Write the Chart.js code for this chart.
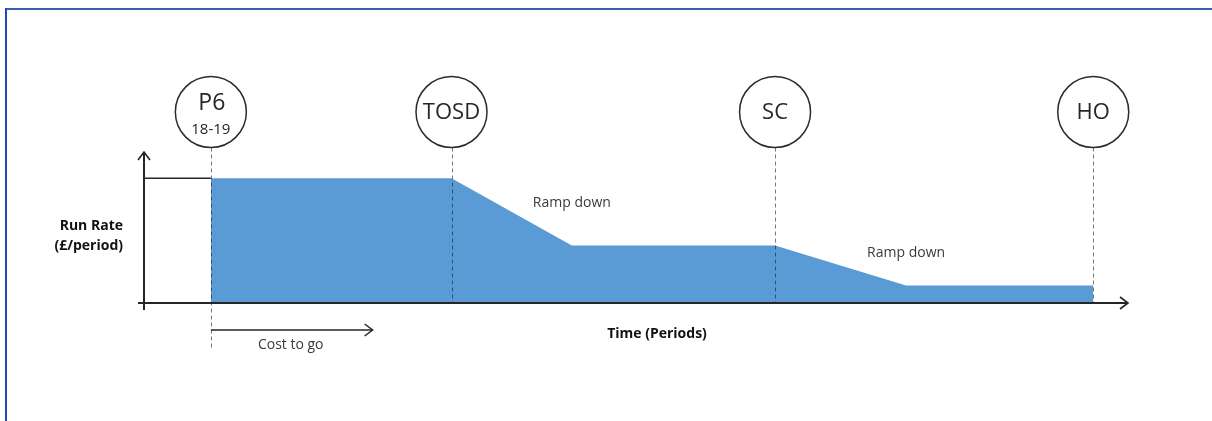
<!DOCTYPE html>
<html>
<head>
<meta charset="utf-8">
<script src="https://cdn.jsdelivr.net/npm/chart.js@4"></script>
<style>
html,body{margin:0;padding:0;background:#fff;}
#wrap{position:relative;width:1212px;height:421px;}
</style>
</head>
<body>
<div id="wrap"><canvas id="c"></canvas></div>
<script>
// ---- data ----
const milestoneLabels = ['P6', 'TOSD', 'SC', 'HO'];
const milestoneSubLabels = ['18-19', '', '', ''];
const milestoneX = [5, 23, 47.2, 71];

const profileX = [5, 23, 32, 47.2, 57, 71];
const profileY = [10, 10, 4.6, 4.6, 1.4, 1.4];

const priorX = [0, 5];
const priorY = [10, 10];

const rampLabels = ['Ramp down', 'Ramp down'];
const rampLabelX = [32, 57];
const rampLabelY = [8, 4.0];

const xAxisTitle = 'Time (Periods)';
const yAxisTitle = ['Run Rate', '(£/period)'];
const costToGoLabel = 'Cost to go';
const costToGoFrom = 5;
const costToGoTo = 17.1;

const xMax = 73.6;
const yMax = 12.1;

const FONT = "'Open Sans', sans-serif";

function arrowHead(ctx, x, y, dir) {
  ctx.beginPath();
  if (dir === 'right') {
    ctx.moveTo(x - 8, y - 6); ctx.lineTo(x, y); ctx.lineTo(x - 8, y + 6);
  } else {
    ctx.moveTo(x - 6, y + 8); ctx.lineTo(x, y); ctx.lineTo(x + 6, y + 8);
  }
  ctx.stroke();
}

const diagramPlugin = {
  id: 'diagram',
  beforeDraw(chart) {
    const ctx = chart.ctx;
    ctx.save();
    ctx.fillStyle = '#fff';
    ctx.fillRect(0, 0, chart.width, chart.height);
    // frame
    ctx.lineWidth = 2;
    ctx.strokeStyle = '#3b5fb0';
    ctx.beginPath(); ctx.moveTo(5, 9); ctx.lineTo(chart.width, 9); ctx.stroke();
    ctx.strokeStyle = '#2247b6';
    ctx.beginPath(); ctx.moveTo(6, 8); ctx.lineTo(6, chart.height); ctx.stroke();
    ctx.restore();
  },
  afterDatasetsDraw(chart) {
    const ctx = chart.ctx;
    const xs = chart.scales.x, ys = chart.scales.y;
    const area = chart.chartArea;
    const y0 = ys.getPixelForValue(0);
    const x0 = xs.getPixelForValue(0);
    ctx.save();

    // dashed milestone lines
    const circleR = 35.5;
    const circleCY = area.top - 40;
    ctx.setLineDash([4, 3]);
    ctx.lineWidth = 1;
    ctx.strokeStyle = 'rgba(30,30,30,0.6)';
    milestoneX.forEach((mx, i) => {
      const px = Math.round(xs.getPixelForValue(mx)) + 0.5;
      const bottom = i === 0 ? y0 + 47 : y0;
      ctx.beginPath();
      ctx.moveTo(px, circleCY + circleR);
      ctx.lineTo(px, bottom);
      ctx.stroke();
    });
    ctx.setLineDash([]);

    // axes
    ctx.strokeStyle = '#262626';
    ctx.lineWidth = 2;
    ctx.beginPath();
    ctx.moveTo(x0 - 6, y0); ctx.lineTo(area.right, y0);
    ctx.stroke();
    ctx.beginPath();
    ctx.moveTo(x0, y0 + 7); ctx.lineTo(x0, area.top);
    ctx.stroke();
    ctx.lineWidth = 1.6;
    arrowHead(ctx, area.right, y0, 'right');
    arrowHead(ctx, x0, area.top, 'up');

    // circles
    milestoneX.forEach((mx, i) => {
      const px = xs.getPixelForValue(mx);
      ctx.beginPath();
      ctx.arc(px, circleCY, circleR, 0, Math.PI * 2);
      ctx.fillStyle = '#fff';
      ctx.fill();
      ctx.lineWidth = 1.5;
      ctx.strokeStyle = '#2b2b2b';
      ctx.stroke();
      ctx.fillStyle = '#262626';
      ctx.textAlign = 'center';
      ctx.textBaseline = 'middle';
      if (milestoneSubLabels[i]) {
        ctx.font = '23px ' + FONT;
        ctx.fillText(milestoneLabels[i], px + 1, circleCY - 9);
        ctx.font = '15px ' + FONT;
        ctx.fillText(milestoneSubLabels[i], px, circleCY + 18);
      } else {
        ctx.font = '22px ' + FONT;
        ctx.fillText(milestoneLabels[i], px, circleCY + 1);
      }
    });

    // cost to go arrow
    const cy = y0 + 27;
    const cx1 = xs.getPixelForValue(costToGoFrom);
    const cx2 = xs.getPixelForValue(costToGoTo);
    ctx.strokeStyle = '#262626';
    ctx.lineWidth = 1.5;
    ctx.beginPath(); ctx.moveTo(cx1, cy); ctx.lineTo(cx2, cy); ctx.stroke();
    arrowHead(ctx, cx2, cy, 'right');
    ctx.fillStyle = '#3a3a3a';
    ctx.font = '14px ' + FONT;
    ctx.textAlign = 'center';
    ctx.textBaseline = 'middle';
    ctx.fillText(costToGoLabel, (cx1 + cx2) / 2 - 1, cy + 15);

    // ramp labels
    rampLabels.forEach((t, i) => {
      ctx.fillText(t, xs.getPixelForValue(rampLabelX[i]), ys.getPixelForValue(rampLabelY[i]));
    });

    // axis titles
    ctx.fillStyle = '#111';
    ctx.font = 'bold 14px ' + FONT;
    ctx.fillText(xAxisTitle, (x0 + area.right) / 2 + 21, y0 + 31);
    ctx.textAlign = 'right';
    ctx.fillText(yAxisTitle[0], x0 - 21, ys.getPixelForValue(6.2));
    ctx.fillText(yAxisTitle[1], x0 - 21, ys.getPixelForValue(4.55));
    ctx.restore();
  }
};

new Chart(document.getElementById('c'), {
  type: 'line',
  data: {
    datasets: [
      {
        label: 'Cost to go',
        data: profileX.map((x, i) => ({ x, y: profileY[i] })),
        fill: 'origin',
        backgroundColor: '#5b9bd5',
        borderWidth: 0,
        borderColor: 'rgba(0,0,0,0)',
        pointRadius: 0,
        tension: 0,
        order: 2
      },
      {
        label: 'Prior',
        data: priorX.map((x, i) => ({ x, y: priorY[i] })),
        fill: false,
        borderColor: '#262626',
        borderWidth: 1.5,
        pointRadius: 0,
        tension: 0,
        order: 1
      }
    ]
  },
  options: {
    responsive: true,
    maintainAspectRatio: false,
    animation: false,
    events: [],
    layout: { padding: { left: 144, right: 84, top: 152, bottom: 118 } },
    plugins: { legend: { display: false }, tooltip: { enabled: false }, title: { display: false } },
    scales: {
      x: { type: 'linear', min: 0, max: xMax, display: false },
      y: { type: 'linear', min: 0, max: yMax, display: false }
    }
  },
  plugins: [diagramPlugin]
});
</script>
</body>
</html>
